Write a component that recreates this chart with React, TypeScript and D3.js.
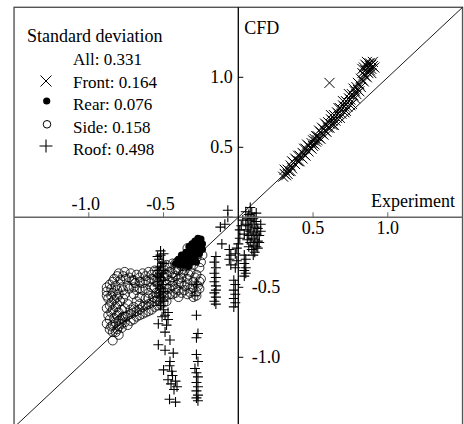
import * as d3 from 'd3';
import React from 'react';

// [experiment, CFD] pairs
const front: number[][] = [
  [0.30, 0.29], [0.31, 0.31], [0.32, 0.30], [0.33, 0.34], [0.34, 0.33], [0.35, 0.37], [0.36, 0.35], [0.37, 0.39],
  [0.38, 0.38], [0.39, 0.41], [0.40, 0.40], [0.41, 0.44], [0.42, 0.43], [0.43, 0.46], [0.44, 0.45], [0.45, 0.49],
  [0.45, 0.44], [0.46, 0.48], [0.47, 0.51], [0.48, 0.50], [0.49, 0.53], [0.50, 0.55], [0.50, 0.51], [0.51, 0.56],
  [0.52, 0.54], [0.53, 0.58], [0.54, 0.57], [0.55, 0.61], [0.55, 0.56], [0.56, 0.60], [0.57, 0.63], [0.58, 0.62],
  [0.59, 0.66], [0.60, 0.64], [0.60, 0.68], [0.61, 0.67], [0.62, 0.70], [0.63, 0.69], [0.64, 0.73], [0.64, 0.66],
  [0.65, 0.72], [0.66, 0.75], [0.67, 0.74], [0.68, 0.78], [0.68, 0.71], [0.69, 0.77], [0.70, 0.80], [0.71, 0.79],
  [0.72, 0.83], [0.72, 0.76], [0.73, 0.82], [0.74, 0.85], [0.75, 0.84], [0.76, 0.88], [0.76, 0.81], [0.77, 0.87],
  [0.78, 0.90], [0.78, 0.85], [0.79, 0.93], [0.80, 0.91], [0.80, 0.96], [0.81, 0.95], [0.82, 0.99], [0.82, 0.93],
  [0.83, 0.98], [0.84, 1.02], [0.84, 0.97], [0.85, 1.01], [0.85, 1.05], [0.86, 1.04], [0.86, 1.08], [0.87, 1.03],
  [0.87, 1.07], [0.88, 1.10], [0.88, 1.05], [0.89, 1.09], [0.89, 1.06], [0.90, 1.08], [0.85, 1.09], [0.83, 1.06],
  [0.61, 0.96],
  [0.31, 0.34], [0.33, 0.31], [0.35, 0.33], [0.36, 0.40], [0.38, 0.42], [0.40, 0.44], [0.41, 0.40], [0.43, 0.42],
  [0.44, 0.49], [0.46, 0.52], [0.47, 0.47], [0.49, 0.49], [0.51, 0.52], [0.52, 0.58], [0.53, 0.55], [0.54, 0.62],
  [0.56, 0.64], [0.57, 0.59], [0.58, 0.67], [0.59, 0.61], [0.61, 0.64], [0.62, 0.73], [0.63, 0.66], [0.65, 0.69],
  [0.66, 0.71], [0.67, 0.78], [0.69, 0.74], [0.70, 0.83], [0.71, 0.75], [0.73, 0.79], [0.74, 0.88], [0.75, 0.80],
  [0.77, 0.92], [0.79, 0.88], [0.81, 0.90], [0.83, 1.03], [0.84, 1.07], [0.86, 1.00], [0.87, 1.10], [0.88, 1.08],
  [0.89, 1.03], [0.90, 1.11], [0.91, 1.07], [0.86, 1.11],
];

const rear: number[][] = [
  [-0.27, -0.15], [-0.25, -0.155], [-0.29, -0.17], [-0.26, -0.18], [-0.24, -0.19], [-0.31, -0.19], [-0.28, -0.20],
  [-0.25, -0.21], [-0.33, -0.21], [-0.30, -0.22], [-0.27, -0.23], [-0.24, -0.23], [-0.32, -0.24], [-0.29, -0.25],
  [-0.26, -0.26], [-0.35, -0.25], [-0.38, -0.27], [-0.35, -0.28], [-0.32, -0.28], [-0.29, -0.29], [-0.40, -0.30],
  [-0.37, -0.31], [-0.34, -0.31], [-0.31, -0.32], [-0.28, -0.32], [-0.42, -0.33], [-0.39, -0.34], [-0.36, -0.34],
  [-0.33, -0.35],
];

const side: number[][] = [
  // left cluster
  [-0.80, -0.40], [-0.76, -0.39], [-0.72, -0.40], [-0.68, -0.41], [-0.83, -0.44], [-0.79, -0.45], [-0.75, -0.44],
  [-0.71, -0.45], [-0.86, -0.48], [-0.82, -0.49], [-0.78, -0.50], [-0.74, -0.49], [-0.70, -0.50], [-0.88, -0.53],
  [-0.84, -0.54], [-0.80, -0.55], [-0.76, -0.55], [-0.87, -0.58], [-0.83, -0.59], [-0.79, -0.60],
  [-0.86, -0.63], [-0.82, -0.64], [-0.78, -0.66], [-0.85, -0.68], [-0.81, -0.70], [-0.77, -0.71],
  [-0.86, -0.73], [-0.82, -0.75], [-0.78, -0.76], [-0.85, -0.78], [-0.81, -0.80], [-0.84, -0.82], [-0.80, -0.84],
  [-0.84, -0.88],
  [-0.88, -0.50], [-0.85, -0.51], [-0.81, -0.52], [-0.77, -0.52], [-0.73, -0.51], [-0.69, -0.47], [-0.73, -0.43],
  [-0.77, -0.42], [-0.81, -0.42], [-0.84, -0.46], [-0.88, -0.56], [-0.85, -0.56], [-0.81, -0.57], [-0.77, -0.58],
  [-0.85, -0.61], [-0.81, -0.62], [-0.88, -0.65], [-0.84, -0.66], [-0.80, -0.68], [-0.87, -0.70], [-0.83, -0.72],
  [-0.79, -0.73], [-0.88, -0.76], [-0.84, -0.77], [-0.80, -0.78], [-0.86, -0.80], [-0.82, -0.82],
  // centre of the cloud
  [-0.70, -0.55], [-0.68, -0.60], [-0.70, -0.64], [-0.66, -0.62], [-0.62, -0.58], [-0.64, -0.52], [-0.68, -0.52],
  [-0.74, -0.62], [-0.72, -0.66], [-0.76, -0.65], [-0.60, -0.58], [-0.56, -0.50], [-0.54, -0.47], [-0.66, -0.57],
  [-0.70, -0.45], [-0.66, -0.46],
  // upper band
  [-0.66, -0.43], [-0.62, -0.42], [-0.58, -0.41], [-0.54, -0.40], [-0.64, -0.47], [-0.60, -0.46], [-0.56, -0.45],
  [-0.52, -0.44], [-0.50, -0.37], [-0.46, -0.36], [-0.48, -0.41], [-0.44, -0.40], [-0.42, -0.33], [-0.40, -0.38],
  [-0.38, -0.30], [-0.36, -0.35],
  [-0.64, -0.40], [-0.60, -0.39], [-0.56, -0.38], [-0.52, -0.39], [-0.48, -0.34], [-0.44, -0.33], [-0.40, -0.31],
  [-0.36, -0.28], [-0.62, -0.45], [-0.58, -0.44], [-0.54, -0.43], [-0.50, -0.42], [-0.46, -0.39], [-0.42, -0.37],
  [-0.38, -0.35], [-0.34, -0.34],
  // right part
  [-0.34, -0.22], [-0.30, -0.20], [-0.27, -0.24], [-0.24, -0.27], [-0.32, -0.27], [-0.28, -0.29], [-0.25, -0.32],
  [-0.34, -0.31], [-0.30, -0.34], [-0.26, -0.36], [-0.36, -0.38], [-0.32, -0.39], [-0.28, -0.41], [-0.25, -0.44],
  [-0.38, -0.43], [-0.34, -0.44], [-0.30, -0.46], [-0.27, -0.49], [-0.40, -0.47], [-0.36, -0.49], [-0.32, -0.51],
  [-0.28, -0.53], [-0.44, -0.46], [-0.42, -0.51], [-0.38, -0.54], [-0.34, -0.55], [-0.46, -0.51], [-0.30, -0.57],
  [-0.42, -0.42], [-0.40, -0.44], [-0.44, -0.49], [-0.40, -0.52], [-0.36, -0.52], [-0.32, -0.54], [-0.28, -0.56],
  [-0.26, -0.46], [-0.29, -0.43], [-0.33, -0.41], [-0.37, -0.40], [-0.38, -0.47], [-0.34, -0.48], [-0.30, -0.50],
  [-0.26, -0.51], [-0.46, -0.45], [-0.44, -0.43],
  // lower arm along the diagonal
  [-0.80, -0.74], [-0.76, -0.71], [-0.72, -0.69], [-0.68, -0.67], [-0.64, -0.64], [-0.60, -0.62], [-0.56, -0.60],
  [-0.52, -0.58], [-0.48, -0.56], [-0.44, -0.55], [-0.40, -0.57], [-0.74, -0.77], [-0.70, -0.73], [-0.66, -0.70],
  [-0.62, -0.68], [-0.58, -0.66], [-0.54, -0.63], [-0.50, -0.61],
  [-0.78, -0.72], [-0.74, -0.70], [-0.70, -0.68], [-0.66, -0.66], [-0.62, -0.63], [-0.58, -0.61], [-0.54, -0.59],
  [-0.50, -0.57], [-0.46, -0.55], [-0.42, -0.54], [-0.78, -0.79], [-0.76, -0.75], [-0.72, -0.74], [-0.68, -0.71],
  [-0.64, -0.69], [-0.60, -0.67], [-0.56, -0.64], [-0.52, -0.62], [-0.48, -0.60],
  // around the holes
  [-0.62, -0.51], [-0.58, -0.50], [-0.55, -0.54], [-0.52, -0.52], [-0.48, -0.48], [-0.66, -0.51], [-0.60, -0.54],
  [-0.57, -0.57], [-0.53, -0.55], [-0.50, -0.53], [-0.48, -0.51],
];

const roof: number[][] = [
  [-0.07, 0.05], [-0.07, 0.0], [-0.09, -0.05], [-0.12, -0.07], [-0.11, -0.19], [0.01, -0.09], [0.01, -0.15], [0.0, -0.19],
  [0.08, 0.07], [0.05, 0.04], [0.07, 0.02], [0.09, 0.03], [0.06, -0.01], [0.08, -0.02], [0.10, -0.01], [0.12, -0.03],
  [0.05, -0.05], [0.07, -0.06], [0.09, -0.05], [0.11, -0.07], [0.13, -0.08], [0.06, -0.09], [0.08, -0.10],
  [0.10, -0.11], [0.12, -0.12], [0.14, -0.13], [0.07, -0.13], [0.09, -0.15], [0.11, -0.16], [0.13, -0.17],
  [0.08, -0.18], [0.10, -0.20], [0.12, -0.21], [0.09, -0.23], [0.11, -0.25], [0.04, -0.12], [0.15, -0.10],
  [0.03, -0.02], [0.02, -0.06], [0.06, -0.16], [0.14, -0.18], [0.13, -0.22], [0.10, -0.27], [0.07, -0.21],
  [0.15, -0.05], [0.11, 0.00], [0.12, 0.03],
  [0.04, -0.27], [0.05, -0.30], [0.04, -0.33], [0.05, -0.36], [0.04, -0.38], [0.05, -0.40], [0.04, -0.42],
  [-0.01, -0.22], [-0.02, -0.26], [-0.01, -0.31], [-0.02, -0.36], [-0.03, -0.45], [-0.02, -0.48], [-0.03, -0.52],
  [-0.02, -0.55], [-0.03, -0.58], [-0.02, -0.61], [-0.03, -0.64],
  [-0.06, -0.23], [-0.05, -0.27], [-0.06, -0.30], [-0.05, -0.34],
  [-0.15, -0.28], [-0.16, -0.32], [-0.15, -0.36], [-0.16, -0.40], [-0.15, -0.43], [-0.16, -0.46], [-0.15, -0.49],
  [-0.15, -0.52], [-0.16, -0.54], [-0.15, -0.57], [-0.16, -0.60], [-0.15, -0.62],
  [-0.28, -0.48], [-0.29, -0.56], [-0.28, -0.70], [-0.27, -0.83], [-0.28, -0.86], [-0.28, -0.98], [-0.27, -1.03],
  [-0.29, -1.08], [-0.28, -1.11], [-0.27, -1.14], [-0.28, -1.18], [-0.27, -1.21], [-0.28, -1.24], [-0.27, -1.27],
  [-0.28, -1.29], [-0.27, -1.31],
  [-0.52, -0.63], [-0.49, -0.70], [-0.535, -0.76], [-0.47, -0.73], [-0.49, -0.82], [-0.457, -0.876], [-0.535, -0.91],
  [-0.49, -0.95], [-0.435, -0.97], [-0.457, -1.03], [-0.50, -1.09], [-0.445, -1.10], [-0.47, -1.16], [-0.42, -1.17],
  [-0.41, -1.21], [-0.46, -1.30], [-0.42, -1.32], [-0.50, -0.66], [-0.47, -0.68], [-0.51, -0.71], [-0.48, -0.77],
  [-0.46, -1.06], [-0.44, -1.13], [-0.45, -1.19], [-0.43, -1.23],
  [-0.52, -0.24], [-0.52, -0.27], [-0.53, -0.30], [-0.51, -0.32], [-0.52, -0.35], [-0.53, -0.38], [-0.51, -0.40],
  [-0.52, -0.43], [-0.53, -0.46], [-0.51, -0.48], [-0.52, -0.51], [-0.53, -0.54],
  [-0.50, -0.26], [-0.54, -0.28], [-0.50, -0.33], [-0.54, -0.36], [-0.50, -0.38], [-0.54, -0.42], [-0.50, -0.45],
  [-0.54, -0.49], [-0.50, -0.53], [-0.52, -0.57], [-0.50, -0.60],
];

const xTicks = [-1.0, -0.5, 0.5, 1.0];
const yTicks = [1.0, 0.5, -0.5, -1.0];
const legendTitle = 'Standard deviation';
const legendLabels = ['All: 0.331', 'Front: 0.164', 'Rear: 0.076', 'Side: 0.158', 'Roof: 0.498'];

const font = '"Liberation Serif", "Times New Roman", serif';

const cross = (s: number) => `M${-s},${-s}L${s},${s}M${-s},${s}L${s},${-s}`;
const plus = (s: number) => `M${-s},0L${s},0M0,${-s}L0,${s}`;
const fmt = (t: number) => (t < 0 ? '-' : '') + Math.abs(t).toFixed(1);

const App = () => {
  const x = d3.scaleLinear().domain([-1.5, 1.5]).range([14.05, 462.55]);
  const y = d3.scaleLinear().domain([-1.5, 1.5]).range([427.3, 7.3]);
  const [x0, x1] = x.range();
  const [y0, y1] = y.range();

  return (
    <svg width={464} height={424} style={{ position: 'absolute', left: 0, top: 0, background: '#fff' }}
      fontFamily={font}>
      <rect x={x0} y={y1} width={x1 - x0} height={y0 - y1} fill="none" stroke="#555" strokeWidth={1.4} />

      {/* diagonal y = x */}
      <line x1={x(-1.5)} y1={y(-1.5)} x2={x(1.5)} y2={y(1.5)} stroke="#000" strokeWidth={0.9} />

      {side.map((d, i) => (
        <circle key={'s' + i} cx={x(d[0])} cy={y(d[1])} r={4.5} fill="none" stroke="#000" strokeWidth={0.8} />
      ))}
      {rear.map((d, i) => (
        <circle key={'r' + i} cx={x(d[0])} cy={y(d[1])} r={3.6} fill="#000" />
      ))}
      {roof.map((d, i) => (
        <path key={'o' + i} transform={`translate(${x(d[0])},${y(d[1])})`} d={plus(5)} stroke="#000" strokeWidth={1.1} />
      ))}
      {front.map((d, i) => (
        <path key={'f' + i} transform={`translate(${x(d[0])},${y(d[1])})`} d={cross(5)} stroke="#000" strokeWidth={1} />
      ))}

      {/* axes through the origin */}
      <line x1={x0} x2={x1} y1={y(0)} y2={y(0)} stroke="#666" strokeWidth={1.5} />
      <line x1={x(0)} x2={x(0)} y1={y1} y2={y0} stroke="#000" strokeWidth={1.3} />

      {xTicks.map(t => (
        <g key={'xt' + t}>
          <line x1={x(t)} x2={x(t)} y1={y(0)} y2={y(0) - 5} stroke="#666" strokeWidth={1} />
          <text x={t < 0 ? x(t) - 3 : x(t)} y={t < 0 ? y(0) - 7 : y(0) + 17} textAnchor="middle" fontSize={18}>
            {fmt(t)}
          </text>
        </g>
      ))}
      {yTicks.map(t => (
        <g key={'yt' + t}>
          <line x1={x(0)} x2={x(0) + 5} y1={y(t)} y2={y(t)} stroke="#000" strokeWidth={1} />
          <text x={t > 0 ? x(0) - 5.5 : x(0) + 13.5} y={y(t) + 6} textAnchor={t > 0 ? 'end' : 'start'} fontSize={18}>
            {fmt(t)}
          </text>
        </g>
      ))}

      <text x={x(0) + 6} y={34} fontSize={18}>CFD</text>
      <text x={371} y={207} fontSize={18}>Experiment</text>

      {/* legend */}
      <text x={27} y={42} fontSize={18}>{legendTitle}</text>
      {legendLabels.map((l, i) => (
        <text key={l} x={73} y={65 + i * 22.5} fontSize={17}>{l}</text>
      ))}
      <path transform="translate(46,81)" d={cross(5.5)} stroke="#000" strokeWidth={1} />
      <circle cx={46.7} cy={101} r={3.6} fill="#000" />
      <circle cx={47} cy={124.3} r={3.8} fill="none" stroke="#000" strokeWidth={1} />
      <path transform="translate(46,146)" d={plus(6.5)} stroke="#000" strokeWidth={1.1} />
    </svg>
  );
};

export default App;
